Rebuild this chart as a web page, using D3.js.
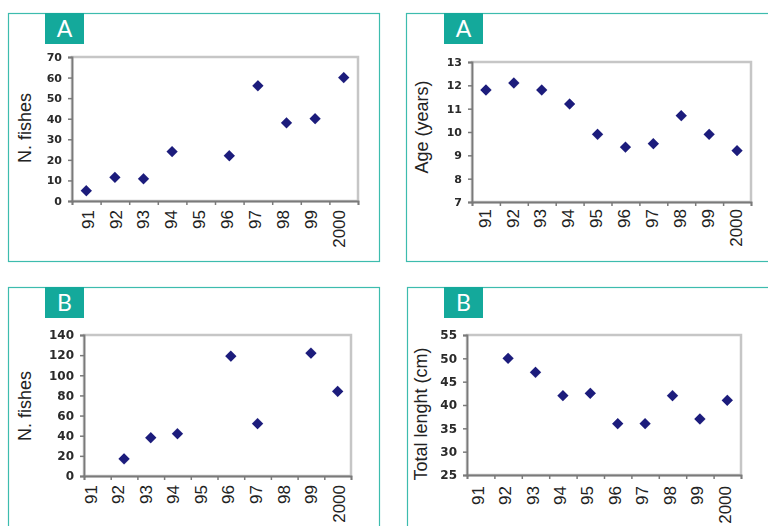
<!DOCTYPE html>
<html><head><meta charset="utf-8">
<script src="https://cdn.jsdelivr.net/npm/d3@7"></script>
<style>body{margin:0;background:#fff} svg{display:block}</style>
</head><body>
<svg id="chart" width="768" height="526"></svg>
<script>
const years = ["91","92","93","94","95","96","97","98","99","2000"];
const fishA = [5, 11.5, 10.8, 24, null, 22, 56, 38, 40, 60];
const ageA = [11.8, 12.1, 11.8, 11.2, 9.9, 9.35, 9.5, 10.7, 9.9, 9.2];
const fishB = [null, 17, 38, 42, null, 119, 52, null, 122, 84];
const lengthB = [null, 50, 47, 42, 42.5, 36, 36, 42, 37, 41];
const ticksFishA = [0,10,20,30,40,50,60,70];
const ticksAge = [7,8,9,10,11,12,13];
const ticksFishB = [0,20,40,60,80,100,120,140];
const ticksLength = [25,30,35,40,45,50,55];
const panelTags = ["A","A","B","B"];
const axisTitles = ["N. fishes","Age (years)","N. fishes","Total lenght (cm)"];

const seriesList = [fishA, ageA, fishB, lengthB];
const tickList = [ticksFishA, ticksAge, ticksFishB, ticksLength];

const layout = [
  {box:{x:8,y:13,w:371,h:248}, tag:{x:45,y:13}, plot:{l:72,r:358,t:57,b:201}, yl:{x:25,y:128}, xl:{s:87,e:338,t:210}, tf:11},
  {box:{x:406,y:13,w:400,h:248}, tag:{x:444,y:13}, plot:{l:472,r:751,t:62,b:202}, yl:{x:422,y:127}, xl:{s:484,e:735,t:209}, tf:11},
  {box:{x:8,y:287,w:371,h:300}, tag:{x:45,y:287}, plot:{l:84,r:351,t:335,b:476}, yl:{x:25,y:406}, xl:{s:90,e:338,t:485}, tf:12},
  {box:{x:407,y:287,w:400,h:300}, tag:{x:444,y:287}, plot:{l:467,r:741,t:335,b:475}, yl:{x:421,y:414}, xl:{s:477,e:724,t:486}, tf:12}
];

const svg = d3.select("#chart");
const defs = svg.append("defs");
defs.append("filter").attr("id","soft").append("feGaussianBlur").attr("stdDeviation",0.7);

layout.forEach((L, i) => {
  const g = svg.append("g");
  const vals = seriesList[i];
  const ticks = tickList[i];
  g.append("rect").attr("x",L.box.x+0.5).attr("y",L.box.y+0.5).attr("width",L.box.w).attr("height",L.box.h)
    .attr("fill","none").attr("stroke","#3dbcae").attr("stroke-width",1.2);
  g.append("rect").attr("x",L.tag.x).attr("y",L.tag.y).attr("width",39).attr("height",31).attr("fill","#14a99b");
  g.append("text").attr("x",L.tag.x+19.5).attr("y",L.tag.y+24).attr("text-anchor","middle")
    .attr("fill","#fff").attr("font-family","Lato, 'Open Sans', sans-serif").attr("font-size",23).text(panelTags[i]);

  const P = L.plot;
  const y = d3.scaleLinear().domain([ticks[0], ticks[ticks.length-1]]).range([P.b, P.t]);
  const xb = d3.scaleBand().domain(years).range([P.l, P.r]);
  const xi = d3.scaleLinear().domain([0, years.length]).range([P.l, P.r]);
  const xp = d3.scalePoint().domain(years).range([L.xl.s, L.xl.e]);

  g.append("rect").attr("x",P.l).attr("y",P.t).attr("width",P.r-P.l).attr("height",P.b-P.t)
    .attr("fill","#fff").attr("stroke","#c6c6c6").attr("stroke-width",2.5);

  const ya = g.append("g").attr("transform",`translate(${P.l},0)`)
    .call(d3.axisLeft(y).tickValues(ticks).tickSize(4).tickPadding(6).tickFormat(d3.format("d")));
  ya.select(".domain").attr("stroke","#7a7a7a").attr("stroke-width",1.8);
  ya.selectAll(".tick line").attr("stroke","#7a7a7a").attr("stroke-width",1.5);
  ya.selectAll(".tick text").attr("font-family","'DejaVu Sans', sans-serif").attr("font-weight","bold")
    .attr("font-size",L.tf).attr("fill","#2a2a2a").attr("filter","url(#soft)");

  const xa = g.append("g").attr("transform",`translate(0,${P.b})`)
    .call(d3.axisBottom(xi).tickValues(d3.range(years.length+1)).tickSize(4).tickFormat(""));
  xa.select(".domain").attr("stroke","#7a7a7a").attr("stroke-width",1.8);
  xa.selectAll(".tick line").attr("stroke","#7a7a7a").attr("stroke-width",1.5);

  const xl = g.append("g").attr("transform",`translate(0,${L.xl.t})`)
    .call(d3.axisBottom(xp).tickSize(0).tickPadding(0));
  xl.select(".domain").remove();
  xl.selectAll(".tick text").attr("transform","rotate(-90)").attr("text-anchor","end")
    .attr("x",0).attr("y",0).attr("dy","0.36em").attr("dx",0)
    .attr("font-family","'Liberation Sans', Arial, sans-serif").attr("font-size",17).attr("fill","#222");

  g.append("text").attr("transform",`translate(${L.yl.x},${L.yl.y}) rotate(-90)`).attr("text-anchor","middle")
    .attr("dy","0.36em").attr("font-family","'Liberation Sans', Arial, sans-serif").attr("font-size",18)
    .attr("fill","#222").text(axisTitles[i]);

  const pts = years.map((yr, k) => ({yr, v: vals[k]})).filter(d => d.v !== null);
  g.append("g").selectAll("path").data(pts).join("path")
    .attr("d", d3.symbol(d3.symbolSquare, 64))
    .attr("transform", d => `translate(${xb(d.yr)+xb.bandwidth()/2},${y(d.v)}) rotate(45)`)
    .attr("fill","#1d1f7c").attr("filter","url(#soft)");
});
</script>
</body></html>
